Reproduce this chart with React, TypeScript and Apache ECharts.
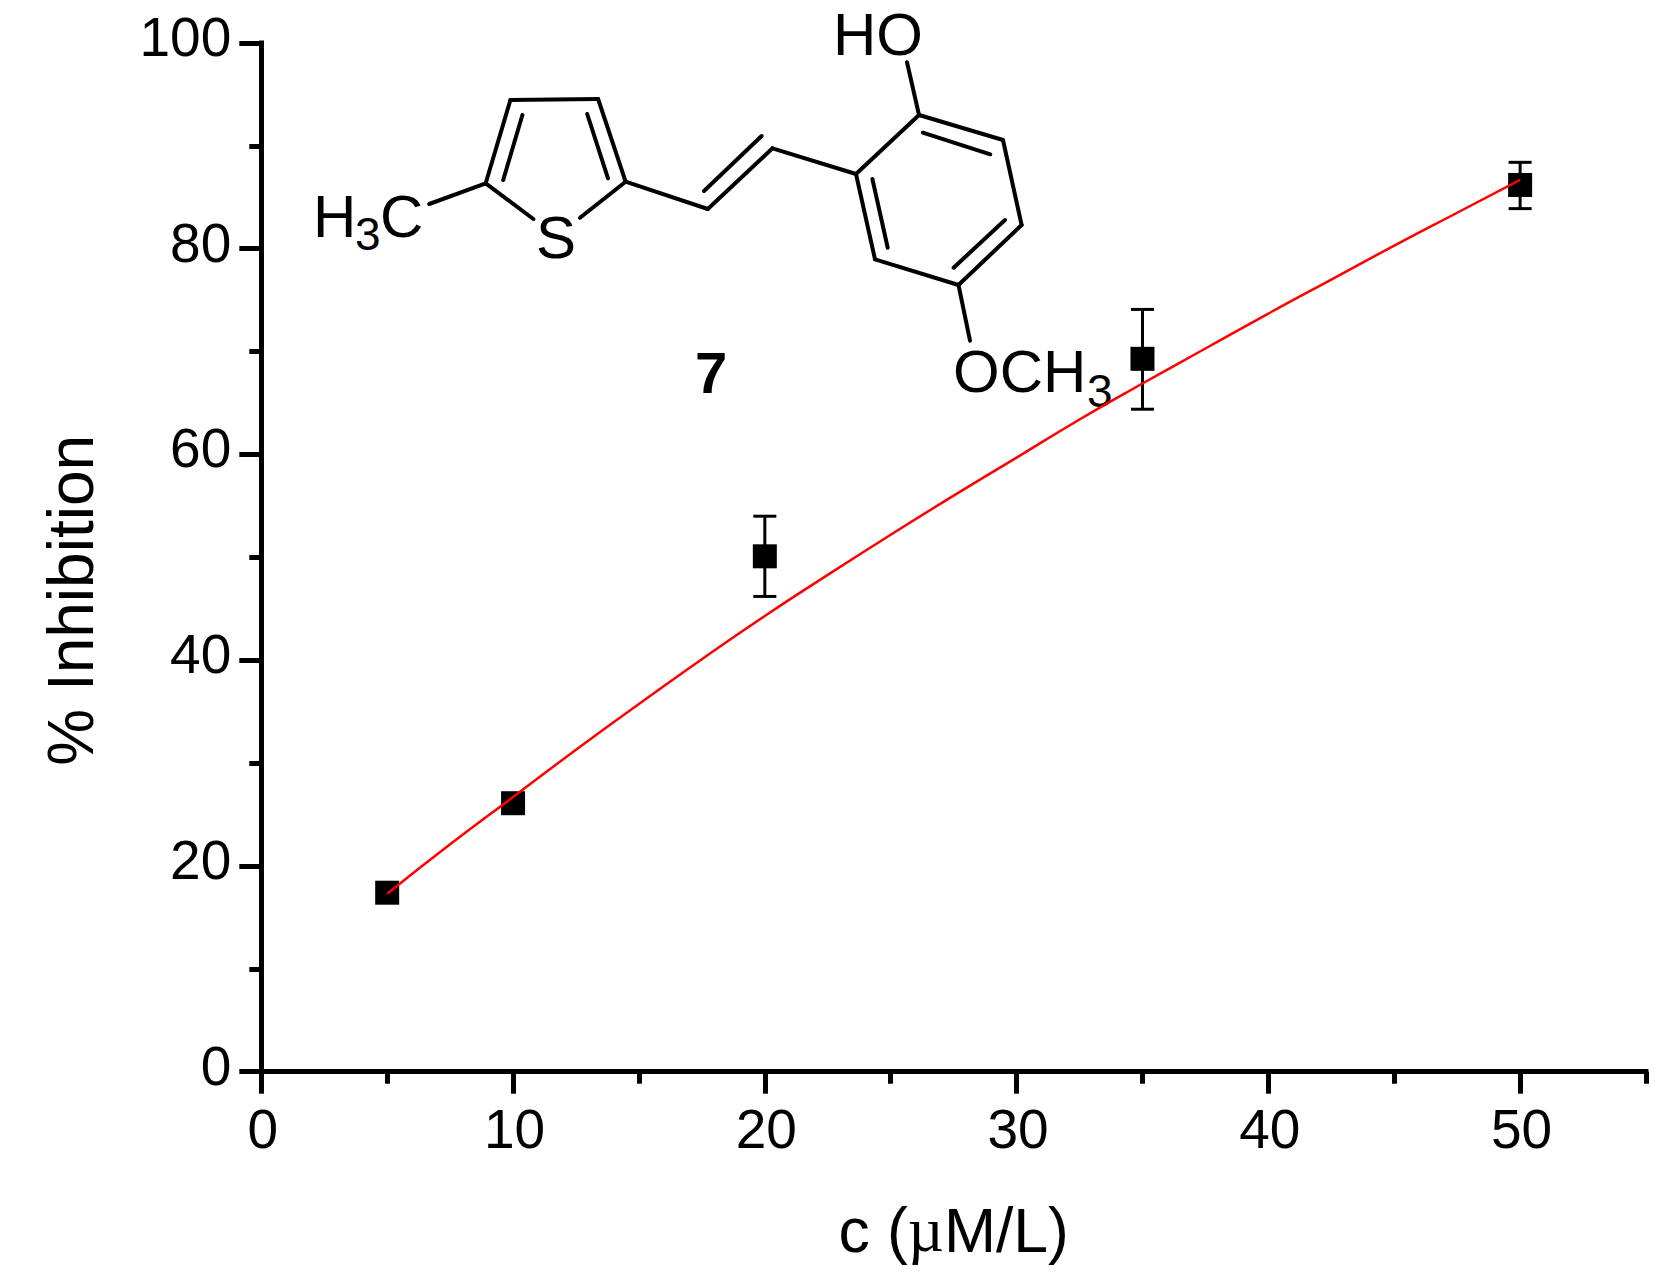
import React, { useEffect, useRef } from "react";
import * as echarts from "echarts";

const FONT = '"Liberation Sans", Arial, sans-serif';

const doseValues = [5, 10, 20, 35, 50];
const inhibitionMeans = [17.4, 26.1, 50.1, 69.3, 86.2];
const errorTops = [17.4, 26.1, 54.0, 74.1, 88.4];
const errorBottoms = [17.4, 26.1, 46.2, 64.4, 83.9];

const fitX = [5, 7.5, 10, 12.5, 15, 17.5, 20, 22.5, 25, 27.5, 30, 32.5, 35, 37.5, 40, 42.5, 45, 47.5, 50];
const fitY = [17.3, 22.1, 26.7, 31.3, 35.75, 40.1, 44.3, 48.3, 52.2, 56.0, 59.7, 63.4, 66.9, 70.3, 73.7, 77.0, 80.3, 83.5, 86.7];

const xMajorTicks = [0, 10, 20, 30, 40, 50];
const xMinorTicks = [5, 15, 25, 35, 45, 55];

const BONDS: number[][] = [
  [485.7, 183.3, 510.4, 100],
  [510.4, 100, 598.1, 99],
  [598.1, 99, 625.6, 181.7],
  [485.7, 183.3, 533.4, 219],
  [625.6, 181.7, 580, 217.7],
  [522.4, 115, 503.2, 180],
  [587.2, 114, 608, 178.3],
  [485.7, 183.3, 429.2, 204],
  [625.6, 181.7, 707.8, 209],
  [707.8, 209, 772.5, 148.3],
  [704, 191, 761.6, 136],
  [772.5, 148.3, 856, 174],
  [856, 174, 919, 115],
  [919, 115, 1003, 140],
  [1003, 140, 1021.6, 225],
  [1021.6, 225, 958.5, 285],
  [958.5, 285, 875, 259.3],
  [875, 259.3, 856, 174],
  [922.8, 132.7, 990.3, 154.3],
  [1005, 220, 953.6, 267.7],
  [872.4, 179, 887.7, 247.7],
  [919, 115, 907, 62.3],
  [958.5, 285, 970, 340.7],
];

function structureText(text: string, x: number, baseline: number, size: number, weight = "normal") {
  return {
    type: "text",
    silent: true,
    style: {
      text,
      x,
      y: baseline - 0.3465 * size,
      fill: "#000",
      font: `${weight} ${size}px ${FONT}`,
      textAlign: "left",
      textVerticalAlign: "middle",
      verticalAlign: "middle",
    },
  };
}

export default function App() {
  const ref = useRef<HTMLDivElement>(null);

  useEffect(() => {
    if (!ref.current) return;
    const chart = echarts.init(ref.current, undefined, { renderer: "svg" });
    const axisLine = { show: true, onZero: false, lineStyle: { color: "#000", width: 5, cap: "square" } };
    chart.setOption({
      animation: false,
      backgroundColor: "#fff",
      grid: { left: 261.3, right: 24, top: 43, bottom: 212.3, containLabel: false },
      xAxis: [
        {
          type: "value",
          min: 0,
          max: 55,
          interval: 10,
          position: "bottom",
          axisLine,
          splitLine: { show: false },
          axisTick: { show: true, length: 22, inside: false, customValues: xMajorTicks, lineStyle: { color: "#000", width: 5 } },
          axisLabel: {
            show: true,
            customValues: xMajorTicks,
            fontFamily: FONT,
            fontSize: 55,
            color: "#000",
            margin: 30,
            padding: [0, 0, 0, 3],
            hideOverlap: false,
          },
          name: "{t|c (}{m|µ}{t|M/L)}",
          nameLocation: "middle",
          nameGap: 127,
          nameMoveOverlap: false,
          nameTextStyle: {
            rich: {
              t: { fontFamily: FONT, fontSize: 62.5, color: "#000" },
              m: { fontFamily: '"Liberation Serif", serif', fontSize: 62.5, color: "#000" },
            },
          },
        },
        {
          type: "value",
          min: 0,
          max: 55,
          interval: 5,
          position: "bottom",
          axisLine: { show: false },
          splitLine: { show: false },
          axisLabel: { show: false },
          axisTick: { show: true, length: 12, customValues: xMinorTicks, lineStyle: { color: "#000", width: 5 } },
        },
      ],
      yAxis: {
        type: "value",
        min: 0,
        max: 100,
        interval: 20,
        axisLine,
        splitLine: { show: false },
        axisTick: { show: true, length: 22, lineStyle: { color: "#000", width: 5 } },
        minorTick: { show: true, splitNumber: 2, length: 12, lineStyle: { color: "#000", width: 5 } },
        minorSplitLine: { show: false },
        axisLabel: {
          fontFamily: FONT,
          fontSize: 55,
          color: "#000",
          margin: 30,
          verticalAlign: "bottom",
          lineHeight: 12,
        },
        name: "% Inhibition",
        nameLocation: "middle",
        nameGap: 158,
        nameMoveOverlap: false,
        nameRotate: 90,
        nameTextStyle: { fontFamily: FONT, fontSize: 64, color: "#000", padding: [0, 86, 0, 0] },
      },
      series: [
        {
          type: "custom",
          name: "error bars",
          xAxisIndex: 0,
          silent: true,
          z: 2,
          data: doseValues.map((x, i) => [x, errorTops[i], errorBottoms[i]]),
          renderItem: (_p: unknown, api: any) => {
            const top = api.coord([api.value(0), api.value(1)]);
            const bottom = api.coord([api.value(0), api.value(2)]);
            const cap = 11.5;
            const style = { stroke: "#000", lineWidth: 3, fill: "none" };
            if (api.value(1) === api.value(2)) return { type: "group", children: [] };
            return {
              type: "group",
              children: [
                { type: "line", shape: { x1: top[0], y1: top[1], x2: bottom[0], y2: bottom[1] }, style },
                { type: "line", shape: { x1: top[0] - cap, y1: top[1], x2: top[0] + cap, y2: top[1] }, style },
                { type: "line", shape: { x1: bottom[0] - cap, y1: bottom[1], x2: bottom[0] + cap, y2: bottom[1] }, style },
              ],
            };
          },
        },
        {
          type: "scatter",
          name: "measured",
          xAxisIndex: 0,
          symbol: "rect",
          symbolSize: 24,
          itemStyle: { color: "#000", opacity: 1 },
          z: 3,
          data: doseValues.map((x, i) => [x, inhibitionMeans[i]]),
        },
        {
          type: "line",
          name: "fit",
          xAxisIndex: 0,
          showSymbol: false,
          symbol: "none",
          smooth: true,
          lineStyle: { color: "#ff0000", width: 2.5 },
          z: 4,
          data: fitX.map((x, i) => [x, fitY[i]]),
        },
      ],
      graphic: {
        elements: [
          ...BONDS.map(([x1, y1, x2, y2]) => ({
            type: "line",
            silent: true,
            shape: { x1, y1, x2, y2 },
            style: { stroke: "#000", lineWidth: 4, lineCap: "round" },
          })),
          structureText("HO", 833, 55, 60),
          structureText("H", 313, 237, 60),
          structureText("3", 355, 250, 46),
          structureText("C", 380, 237, 60),
          structureText("S", 536, 258, 60),
          structureText("7", 695, 393, 58, "bold"),
          structureText("OCH", 953, 392, 60),
          structureText("3", 1087, 407, 46),
        ],
      },
    });
    return () => chart.dispose();
  }, []);

  return <div ref={ref} style={{ position: "absolute", left: 0, top: 0, width: 1670, height: 1284 }} />;
}
